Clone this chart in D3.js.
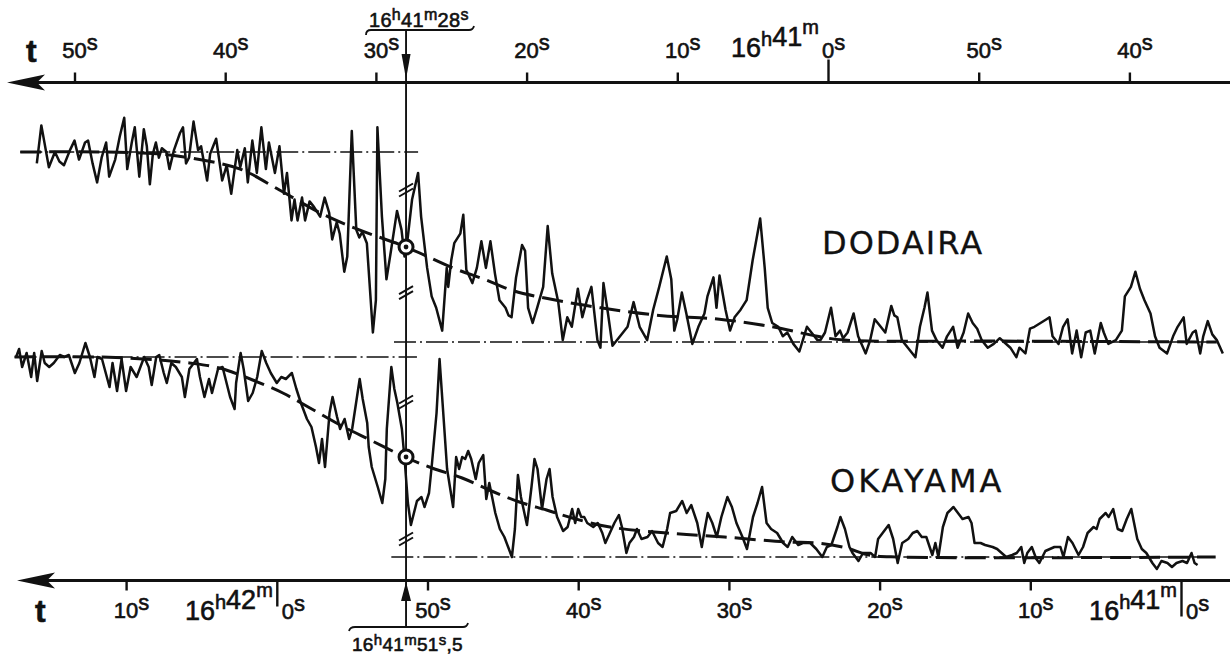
<!DOCTYPE html>
<html>
<head>
<meta charset="utf-8">
<script src="https://cdn.jsdelivr.net/npm/d3@7"></script>
<style>
  body { margin: 0; background: #fff; }
  .num { font-family: "Liberation Sans", Arial, sans-serif; fill: #111; stroke: #111; stroke-width: 0.6; }
  .name { font-family: "DejaVu Sans", sans-serif; fill: #111; stroke: #111; stroke-width: 0.3; }
</style>
</head>
<body>
<svg id="chart"></svg>
<script>
// time: seconds after 16h41m0s, each station on its own axis (top = DODAIRA, bottom = OKAYAMA)
// intensity: % of the uneclipsed level (0 = totality level)
const topTicks = [50, 40, 30, 20, 10, 0, -10, -20];
const topTickLabels = ["50", "40", "30", "20", "10", "0", "50", "40"];
const botTicks = [70, 60, 50, 40, 30, 20, 10, 0];
const botTickLabels = ["10", "0", "50", "40", "30", "20", "10", "0"];

const dodaira = [
  [52.5,94],[52.2,114],[51.7,92],[51.3,100],[51.0,95],[50.7,93],[50.3,101],[50.0,106],[49.7,96],[49.3,105],
  [49.1,106],[48.8,94],[48.5,84],[48.2,97],[47.9,105],[47.7,87],[47.3,96],[47.0,108],[46.7,118],[46.5,91],
  [46.2,105],[46.0,113],[45.7,87],[45.4,112],[45.2,103],[45.0,83],[44.8,99],[44.6,105],[44.4,97],[44.2,102],
  [43.9,100],[43.7,91],[43.4,101],[43.0,110],[42.8,113],[42.6,94],[42.4,97],[42.1,116],[41.8,101],[41.6,103],
  [41.2,85],[41.0,99],[40.8,103],[40.6,107],[40.2,85],[39.9,93],[39.6,78],[39.2,101],[39.0,92],[38.7,102],
  [38.5,84],[38.2,106],[37.9,89],[37.6,113],[37.3,91],[37.1,105],[36.7,89],[36.4,103],[36.1,78],[35.9,89],
  [35.6,64],[35.4,75],[35.2,64],[34.9,76],[34.7,64],[34.4,74],[34.1,71],[33.7,66],[33.4,76],[33.1,68],
  [32.9,54],[32.6,63],[32.4,57],[32.1,37],[31.9,45],[31.6,111],[31.3,59],[31.1,55],[30.9,58],[30.6,52],
  [30.2,5],[30.0,22],[29.9,113],[29.6,66],[29.3,33],[29.0,48],[28.6,69],[28.3,59],[28.1,45],[27.9,54],
  [27.6,75],[27.2,89],[27.0,66],[26.6,39],[26.3,24],[26.0,18],[25.6,6],[25.3,39],[25.2,29],[25.0,43],
  [24.8,52],[24.4,57],[24.2,67],[24.0,38],[23.6,31],[23.3,39],[23.0,53],[22.7,39],[22.4,53],[22.1,36],
  [21.8,22],[21.4,18],[21.2,14],[21.0,13],[20.7,34],[20.3,51],[20.1,48],[19.9,18],[19.6,10],[19.3,18],
  [18.9,29],[18.6,61],[18.3,36],[17.9,21],[17.6,1],[17.3,13],[17.0,8],[16.6,28],[16.3,13],[16.0,22],
  [15.7,29],[15.3,1],[15.1,-3],[14.9,31],[14.6,15],[14.3,-2],[13.8,3],[13.3,8],[12.9,21],[12.5,8],
  [12.0,1],[11.6,17],[11.2,29],[10.7,45],[10.4,33],[10.2,6],[10.0,12],[9.7,26],[9.4,15],[9.0,-1],
  [8.6,8],[8.2,15],[8.0,24],[7.6,34],[7.4,18],[7.2,35],[6.8,17],[6.5,6],[6.2,13],[5.8,17],
  [5.4,22],[5.0,43],[4.5,65],[4.2,39],[4.0,18],[3.7,10],[3.3,8],[3.0,3],[2.7,5],[2.3,-1],
  [1.9,-5],[1.4,8],[1.1,5],[0.7,1],[0.5,1],[0.2,5],[-0.2,18],[-0.5,3],[-0.8,6],[-1.0,2],
  [-1.3,5],[-1.7,15],[-2.0,3],[-2.5,-6],[-2.8,1],[-3.1,12],[-3.5,8],[-3.8,5],[-4.2,19],[-4.4,14],
  [-4.6,13],[-4.9,1],[-5.3,-3],[-5.8,-8],[-6.1,8],[-6.4,18],[-6.6,26],[-6.9,6],[-7.2,1],[-7.6,-3],
  [-7.9,3],[-8.3,8],[-8.6,-3],[-9.0,5],[-9.3,15],[-9.6,10],[-9.9,7],[-10.2,1],[-10.6,-3],[-11.0,-1],
  [-11.4,2],[-12.1,-3],[-12.5,-8],[-12.7,-3],[-13.1,-6],[-13.4,7],[-13.7,8],[-14.1,10],[-14.5,12],[-14.7,13],
  [-14.9,3],[-15.3,-1],[-15.6,8],[-15.9,12],[-16.2,-6],[-16.5,6],[-16.8,-8],[-17.1,5],[-17.4,6],[-17.7,-6],
  [-18.1,10],[-18.3,5],[-18.6,-1],[-19.1,1],[-19.5,6],[-19.7,24],[-20.1,29],[-20.4,37],[-20.7,28],[-21.0,22],
  [-21.4,15],[-21.7,3],[-22.0,-3],[-22.5,-6],[-22.9,3],[-23.2,8],[-23.6,13],[-23.8,-1],[-24.2,5],[-24.4,6],
  [-24.7,-6],[-24.9,3],[-25.2,11],[-25.5,4],[-25.8,1],[-26.2,-6]
];

const okayama = [
  [77.3,100],[77.1,104],[76.9,95],[76.6,102],[76.3,90],[76.1,102],[75.9,88],[75.6,103],[75.4,97],[75.1,95],
  [74.8,97],[74.4,101],[74.1,100],[73.8,101],[73.4,92],[73.1,97],[72.7,107],[72.4,100],[72.1,90],[71.9,100],
  [71.6,99],[71.1,85],[70.9,97],[70.6,83],[70.3,99],[70.0,83],[69.7,95],[69.3,90],[69.1,94],[68.8,100],
  [68.5,95],[68.3,86],[68.0,100],[67.8,101],[67.5,92],[67.3,87],[67.0,97],[66.7,95],[66.3,90],[66.1,80],
  [65.8,94],[65.3,99],[65.1,90],[64.8,80],[64.5,89],[64.3,82],[63.9,94],[63.6,95],[63.1,80],[62.8,74],
  [62.7,87],[62.4,102],[62.2,94],[61.9,78],[61.6,82],[61.3,90],[61.0,103],[60.7,97],[60.4,92],[60.0,87],
  [59.7,90],[59.4,89],[59.0,92],[58.7,84],[58.4,77],[58.0,69],[57.7,65],[57.4,55],[57.2,47],[57.0,59],
  [56.8,45],[56.5,72],[56.3,80],[56.0,70],[55.8,64],[55.5,69],[55.2,59],[55.0,64],[54.7,79],[54.5,89],
  [54.3,79],[54.0,67],[53.9,55],[53.7,45],[53.3,35],[53.0,27],[52.8,39],[52.7,64],[52.4,95],[52.2,84],
  [52.0,77],[51.7,64],[51.5,47],[51.3,27],[51.1,16],[50.7,28],[50.4,30],[50.2,25],[49.9,32],[49.7,47],
  [49.4,72],[49.2,99],[49.0,77],[48.7,44],[48.3,25],[48.1,50],[47.9,44],[47.7,50],[47.5,49],[47.3,53],
  [47.1,49],[46.8,39],[46.6,47],[46.3,51],[46.1,29],[45.9,37],[45.5,22],[45.2,14],[44.9,10],[44.4,0],
  [44.2,14],[44.0,41],[43.8,30],[43.4,16],[43.1,35],[42.9,49],[42.7,44],[42.4,24],[42.1,39],[41.9,44],
  [41.7,30],[41.4,20],[41.0,13],[40.7,15],[40.4,24],[40.2,17],[40.0,24],[39.8,20],[39.6,20],[39.4,17],
  [39.0,15],[38.7,17],[38.4,12],[38.2,7],[37.9,12],[37.6,17],[37.3,21],[37.1,15],[36.8,2],[36.6,7],
  [36.3,10],[36.1,14],[35.8,9],[35.4,10],[35.1,13],[34.7,7],[34.4,5],[34.1,14],[33.9,22],[33.5,23],
  [33.1,28],[32.8,22],[32.5,26],[32.1,17],[31.8,5],[31.6,14],[31.4,22],[31.1,17],[30.8,10],[30.5,20],
  [30.1,30],[29.8,25],[29.5,17],[29.1,10],[28.8,4],[28.4,20],[28.1,27],[27.8,35],[27.5,17],[27.2,14],
  [26.8,12],[26.4,7],[26.1,5],[25.8,10],[25.4,6],[25.1,7],[24.6,7],[24.2,4],[23.8,0],[23.5,5],
  [23.2,6],[22.8,15],[22.6,20],[22.3,14],[22.0,5],[21.8,2],[21.4,-2],[21.1,2],[20.6,2],[20.3,0],
  [20.1,9],[19.8,12],[19.4,16],[19.1,9],[18.8,-3],[18.5,7],[18.1,9],[17.8,12],[17.5,13],[17.2,10],
  [16.9,10],[16.5,1],[16.3,7],[16.1,0],[15.8,15],[15.5,22],[15.1,25],[14.8,22],[14.5,19],[14.1,20],
  [13.9,17],[13.7,7],[13.3,7],[13.0,6],[12.5,5],[12.2,4],[11.9,2],[11.6,0],[11.2,1],[10.9,2],
  [10.6,5],[10.4,-3],[10.2,2],[9.9,5],[9.6,-1],[9.4,-3],[9.0,3],[8.7,4],[8.4,5],[8.0,5],
  [7.8,0],[7.5,10],[7.2,7],[6.8,1],[6.5,5],[6.2,12],[5.8,15],[5.6,14],[5.4,19],[5.0,22],
  [4.8,20],[4.5,24],[4.2,14],[3.9,13],[3.6,19],[3.3,24],[2.9,9],[2.6,4],[2.3,2],[1.9,-3],
  [1.6,-6],[1.3,-2],[0.9,-3],[0.6,-5],[0.3,-3],[-0.1,-2],[-0.4,-3],[-0.7,2],[-0.9,-3],[-1.1,-4]
];

// smoothed mean curves (dashed)
const dodTrend = [[53.6,100],[48.3,100],[44.4,99],[41.7,96],[39.0,91],[36.4,80],[33.7,68],[31.1,59],[28,50],
  [24.9,39],[22.8,33],[20.9,27],[18.7,23],[15.1,18],[11.2,14],[7.2,12],[3.7,8],[0.7,3],[-1.1,1],[-11.5,0.5],[-25.8,0]];
const okaTrend = [[77.4,100],[71.8,100],[67.8,98.5],[65.8,97],[63.8,94.5],[61.6,88.5],[59.6,82],[57.8,74.5],
  [55.8,66],[53.8,58.5],[51.5,50],[49.7,44.5],[47.7,39.5],[45.9,33.5],[43.9,27.5],[42.1,23.5],[40.4,19.5],
  [37.9,15],[34.1,12],[30.3,10],[26.2,7.5],[24.2,7],[22.2,4.5],[20.7,1],[18.7,0],[-2.3,0]];

// reference levels (dash-dot): level, from, to (seconds)
const dodLevels = [[100, 53.6, 27.2], [0, 28.8, -25.4]];
const okaLevels = [[100, 77.4, 50.7], [0, 52.4, -2.3]];

// half-intensity instants and break marks on the vertical line
const dodMid = [28, 50];
const okaMid = [51.5, 50];
const dodBreaks = [80, 26];
const okaBreaks = [77.5, 9];

const W = 1230, H = 654;
const svg = d3.select("#chart").attr("width", W).attr("height", H);

const xTop = d3.scaleLinear().domain([0, 50]).range([828, 74.5]);
const xBot = d3.scaleLinear().domain([0, 70]).range([1181, 126.1]);
const yDod = d3.scaleLinear().domain([0, 100]).range([342, 152]);
const yOka = d3.scaleLinear().domain([0, 100]).range([557, 357]);

const topY = 82.5, botY = 580.5;
const vx = xTop(dodMid[0]);

// ---- axes
function axisLine(y, tipX) {
  svg.append("line").attr("x1", tipX + 28).attr("x2", W).attr("y1", y).attr("y2", y)
    .attr("stroke", "#111").attr("stroke-width", 2.8);
  svg.append("path")
    .attr("d", `M${tipX},${y} L${tipX + 38},${y - 8} L${tipX + 30},${y} L${tipX + 38},${y + 8} Z`)
    .attr("fill", "#111");
}
axisLine(topY, 7);
axisLine(botY, 17);

const gTop = svg.append("g").attr("transform", `translate(0,${topY})`)
  .call(d3.axisTop(xTop).tickValues(topTicks).tickSize(10).tickFormat(""));
const gBot = svg.append("g").attr("transform", `translate(0,${botY})`)
  .call(d3.axisBottom(xBot).tickValues(botTicks).tickSize(10).tickFormat(""));
[gTop, gBot].forEach(g => {
  g.select(".domain").remove();
  g.selectAll(".tick line").attr("stroke", "#111").attr("stroke-width", 2.4);
});
gTop.selectAll(".tick line").filter(d => d === 0).attr("y2", -23);
gBot.selectAll(".tick line").filter(d => d === 60).attr("y2", 26);
gBot.selectAll(".tick line").filter(d => d === 0).attr("y2", 36);

// ---- tick labels with superscript s
function secLabel(x, y, digits, startAt) {
  const t = svg.append("text").attr("class", "num").attr("y", y).attr("font-size", 22);
  const d = t.append("tspan").text(digits);
  t.append("tspan").attr("dy", -8).text("s");
  const w = d.node().getComputedTextLength();
  const left = startAt !== undefined ? startAt : x - w / 2;
  t.attr("x", left);
  return left;
}
function hmPrefix(xRight, y, parts, size, sup) {
  const t = svg.append("text").attr("class", "num").attr("x", xRight).attr("y", y)
    .attr("text-anchor", "end").attr("font-size", size);
  parts.forEach(p => {
    t.append("tspan").attr("dy", 0).text(p[0]);
    t.append("tspan").attr("font-size", sup).attr("dy", -size * 0.42).text(p[1]);
    t.append("tspan").attr("dy", size * 0.42).text("");
  });
  return t;
}

topTicks.forEach((v, i) => {
  const left = secLabel(xTop(v), 58, topTickLabels[i]);
  if (v === 0) hmPrefix(left - 3, 57, [["16", "h"], ["41", "m"]], 27, 20);
});
botTicks.forEach((v, i) => {
  const x = xBot(v);
  if (v === 60 || v === 0) {
    secLabel(x, 619, botTickLabels[i], x + 5);
    hmPrefix(x - 4, 620, [["16", "h"], [v === 60 ? "42" : "41", "m"]], 27, 20);
  } else {
    secLabel(x, 618, botTickLabels[i]);
  }
});

// axis symbol t
svg.append("text").attr("class", "num").attr("x", 26).attr("y", 62)
  .attr("font-size", 32).attr("font-weight", "bold").text("t");
svg.append("text").attr("class", "num").attr("x", 35).attr("y", 622)
  .attr("font-size", 32).attr("font-weight", "bold").text("t");

// ---- reference levels
function xFor(y, s) { return y === yDod ? xTop(s) : xBot(s); }
function levels(list, y) {
  list.forEach(([v, a, b]) => {
    svg.append("line").attr("x1", xFor(y, a)).attr("x2", xFor(y, b))
      .attr("y1", y(v)).attr("y2", y(v))
      .attr("stroke", "#111").attr("stroke-width", 1.5).attr("stroke-dasharray", "22,4,2,4");
  });
}
levels(dodLevels, yDod);
levels(okaLevels, yOka);

// ---- vertical line through the half-intensity instants
svg.append("line").attr("x1", vx).attr("x2", vx).attr("y1", topY).attr("y2", botY)
  .attr("stroke", "#111").attr("stroke-width", 1.9);

// ---- traces
const lineDod = d3.line().x(d => xTop(d[0])).y(d => yDod(d[1]));
const lineOka = d3.line().x(d => xBot(d[0])).y(d => yOka(d[1]));
[[dodaira, lineDod], [okayama, lineOka]].forEach(([data, gen]) => {
  svg.append("path").datum(data).attr("d", gen)
    .attr("fill", "none").attr("stroke", "#111").attr("stroke-width", 2.5)
    .attr("stroke-linejoin", "round");
});

// ---- dashed mean curves
[[dodTrend, lineDod], [okaTrend, lineOka]].forEach(([data, gen]) => {
  svg.append("path").datum(data).attr("d", gen.curve(d3.curveCatmullRom.alpha(0.5)))
    .attr("fill", "none").attr("stroke", "#111").attr("stroke-width", 3)
    .attr("stroke-dasharray", "21,8");
  gen.curve(d3.curveLinear);
});

// ---- break marks
function breaks(vals, y) {
  vals.forEach(v => {
    [-2.5, 2.5].forEach(o => {
      svg.append("line").attr("x1", vx - 7).attr("x2", vx + 7)
        .attr("y1", y(v) + o + 4).attr("y2", y(v) + o - 4)
        .attr("stroke", "#111").attr("stroke-width", 2);
    });
  });
}
breaks(dodBreaks, yDod);
breaks(okaBreaks, yOka);

// ---- half-intensity markers
[yDod(dodMid[1]), yOka(okaMid[1])].forEach(y => {
  svg.append("circle").attr("cx", vx).attr("cy", y).attr("r", 7)
    .attr("fill", "#fff").attr("stroke", "#111").attr("stroke-width", 3);
  svg.append("circle").attr("cx", vx).attr("cy", y).attr("r", 2.4).attr("fill", "#111");
});

// ---- instant annotations
svg.append("path").attr("d", `M366,35 Q366,30 371,30 L469,30 Q473,30 474,26`)
  .attr("fill", "none").attr("stroke", "#111").attr("stroke-width", 1.8);
svg.append("line").attr("x1", vx).attr("x2", vx).attr("y1", 30).attr("y2", topY)
  .attr("stroke", "#111").attr("stroke-width", 1.9);
svg.append("path").attr("d", `M${vx},79 L${vx - 4.5},54 L${vx + 4.5},54 Z`).attr("fill", "#111");
const topNote = svg.append("text").attr("class", "num").attr("x", 369).attr("y", 27)
  .attr("font-size", 20).attr("letter-spacing", 0.3);
topNote.append("tspan").text("16");
topNote.append("tspan").attr("dy", -7).attr("font-size", 16).text("h");
topNote.append("tspan").attr("dy", 7).text("41");
topNote.append("tspan").attr("dy", -7).attr("font-size", 16).text("m");
topNote.append("tspan").attr("dy", 7).text("28");
topNote.append("tspan").attr("dy", -7).attr("font-size", 16).text("s");

svg.append("path").attr("d", `M349,631 Q350,627 355,627 L463,627 Q467,627 468,623`)
  .attr("fill", "none").attr("stroke", "#111").attr("stroke-width", 1.8);
svg.append("line").attr("x1", vx).attr("x2", vx).attr("y1", botY).attr("y2", 627)
  .attr("stroke", "#111").attr("stroke-width", 1.9);
svg.append("path").attr("d", `M${vx},582 L${vx - 5},601 L${vx + 5},601 Z`).attr("fill", "#111");
const botNote = svg.append("text").attr("class", "num").attr("x", 352).attr("y", 651)
  .attr("font-size", 19).attr("letter-spacing", 0.3);
botNote.append("tspan").text("16");
botNote.append("tspan").attr("dy", -6).attr("font-size", 15).text("h");
botNote.append("tspan").attr("dy", 6).text("41");
botNote.append("tspan").attr("dy", -6).attr("font-size", 15).text("m");
botNote.append("tspan").attr("dy", 6).text("51");
botNote.append("tspan").attr("dy", -6).attr("font-size", 15).text("s");
botNote.append("tspan").attr("dy", 6).text(",5");

// ---- station names
svg.append("text").attr("class", "name").attr("x", 822).attr("y", 254)
  .attr("font-size", 32).attr("letter-spacing", 2).text("DODAIRA");
svg.append("text").attr("class", "name").attr("x", 830).attr("y", 492)
  .attr("font-size", 32).attr("letter-spacing", 3).text("OKAYAMA");
</script>
</body>
</html>
